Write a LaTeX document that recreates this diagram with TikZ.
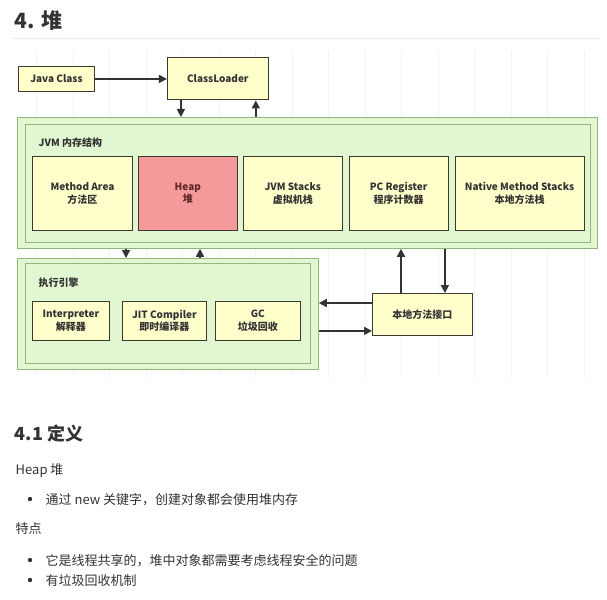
\documentclass[tikz,border=0pt]{standalone}
\usepackage{fontspec}
\setmainfont{Noto Sans CJK SC}
\usepackage{xcolor}
\usepackage{tikz}
\usetikzlibrary{positioning, arrows.meta}

\definecolor{boxyellow}{HTML}{FFFFCC}
\definecolor{boxline}{HTML}{3A3A2E}
\definecolor{heapred}{HTML}{F59A9A}
\definecolor{heaptext}{HTML}{5E2626}
\definecolor{panelgreen}{HTML}{E2F6D2}
\definecolor{panelline}{HTML}{93B67C}
\definecolor{arrowgray}{HTML}{333333}
\definecolor{textgray}{HTML}{333333}
\definecolor{gridgray}{HTML}{F3F3F3}
\definecolor{rulegray}{HTML}{EAEAEA}

\begin{document}
\begin{tikzpicture}[
    x=1pt, y=-1pt,
    node distance=5pt,
    thick,
    box/.style={rectangle, draw=boxline, fill=boxyellow, line width=0.9pt, inner sep=0pt,
        align=center, text=textgray, font=\bfseries\fontsize{10}{12.5}\selectfont},
    panel/.style={rectangle, draw=panelline, fill=panelgreen, line width=0.8pt, inner sep=0pt},
    caption/.style={anchor=west, text=textgray, font=\bfseries\fontsize{10}{12}\selectfont},
    body/.style={anchor=base west, text=textgray, font=\fontsize{13}{16}\selectfont},
    arrow/.style={-{Triangle[length=8pt, width=8pt]}, line width=1.6pt, draw=arrowgray}
]
    % page and faint grid
    \fill[white] (0,0) rectangle (607,599);
    \useasboundingbox (0,0) rectangle (607,599);
    \draw[gridgray, line width=0.5pt, step=36.5] (12,378) grid (600,50);

    % heading
    \node (h4) [anchor=base west, text=textgray, font=\bfseries\fontsize{21}{24}\selectfont] at (11,29) {4. 堆};
    \draw[rulegray, line width=1pt] (12,39) -- (600,39);

    % class loading
    \node (jc) [box, minimum width=76pt, minimum height=25pt, anchor=north west] at (18,66) {Java Class};
    \node (cl) [box, minimum width=101pt, minimum height=42pt, right=72pt of jc] {ClassLoader};

    % JVM memory panel
    \node (jvm) [panel, minimum width=580pt, minimum height=131pt, anchor=north west] at (17,117) {};
    \node (jvmin) [panel, minimum width=565pt, minimum height=118pt, anchor=north west] at (25,124) {};
    \node (jvmcap) [caption] at (35,143) {JVM 内存结构};

    \node (mth) [box, minimum width=100pt, minimum height=74pt, anchor=north west] at (32,156) {Method Area\\方法区};
    \node (heap) [box, fill=heapred, text=heaptext, minimum width=99pt, minimum height=74pt, right=of mth] {Heap\\堆};
    \node (stk) [box, minimum width=99pt, minimum height=74pt, right=of heap] {JVM Stacks\\虚拟机栈};
    \node (pc) [box, minimum width=99pt, minimum height=74pt, right=6pt of stk] {PC Register\\程序计数器};
    \node (nms) [box, minimum width=129pt, minimum height=74pt, right=6pt of pc] {Native Method Stacks\\本地方法栈};

    % execution engine panel
    \node (exe) [panel, minimum width=301pt, minimum height=111pt, anchor=north west] at (17,258) {};
    \node (exein) [panel, minimum width=285pt, minimum height=100pt, anchor=north west] at (25,263) {};
    \node (execap) [caption] at (35,283) {执行引擎};

    \node (intp) [box, minimum width=77pt, minimum height=39pt, anchor=north west] at (32,301) {Interpreter\\解释器};
    \node (jit) [box, minimum width=84pt, minimum height=39pt, right=12pt of intp] {JIT Compiler\\即时编译器};
    \node (gc) [box, minimum width=85pt, minimum height=39pt, right=8pt of jit] {GC\\垃圾回收};

    % native interface
    \node (nif) [box, minimum width=100pt, minimum height=42pt, anchor=north west] at (372,293) {本地方法接口};

    % arrows
    \draw[arrow] (jc) -- (cl);
    \draw[arrow] ([xshift=14pt]cl.south west) -- ([xshift=14pt]cl.south west |- jvm.north);
    \draw[arrow] ([xshift=-13pt]cl.south east |- jvm.north) -- ([xshift=-13pt]cl.south east);

    \draw[arrow] ([xshift=109pt]jvm.south west) -- ([xshift=109pt]jvm.south west |- exe.north);
    \draw[arrow] ([xshift=183pt]jvm.south west |- exe.north) -- ([xshift=183pt]jvm.south west);

    \draw[arrow] ([xshift=29pt]nif.north west) -- ([xshift=29pt]nif.north west |- jvm.south);
    \draw[arrow] ([xshift=-28pt]nif.north east |- jvm.south) -- ([xshift=-28pt]nif.north east);

    \draw[arrow] ([yshift=-10pt]nif.north west) -- ([yshift=-10pt]nif.north west -| exe.east);
    \draw[arrow] ([yshift=5pt]nif.south west -| exe.east) -- ([yshift=5pt]nif.south west);

    % definition text
    \node (h41) [anchor=base west, text=textgray, font=\bfseries\fontsize{18}{22}\selectfont] at (11,440) {4.1 定义};
    \node (def) [body] at (12,474) {Heap 堆};
    \node (it1) [body] at (42,504) {通过 new 关键字，创建对象都会使用堆内存};
    \node (feat) [body] at (12,533) {特点};
    \node (it2) [body] at (42,565) {它是线程共享的，堆中对象都需要考虑线程安全的问题};
    \node (it3) [body] at (42,585) {有垃圾回收机制};
    \foreach \yb in {499,560,580}
        \fill[textgray] (30,\yb) circle (2.2);
\end{tikzpicture}
\end{document}
